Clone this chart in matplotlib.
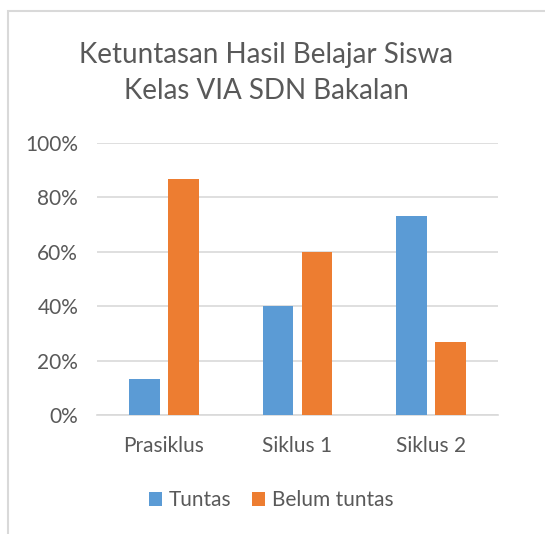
import matplotlib
matplotlib.use("Agg")
import matplotlib.pyplot as plt
from matplotlib.patches import Rectangle
from matplotlib.ticker import PercentFormatter

categories = ["Prasiklus", "Siklus 1", "Siklus 2"]
tuntas = [13.33, 40.0, 73.33]
belum_tuntas = [86.67, 60.0, 26.67]
series_names = ["Tuntas", "Belum tuntas"]
yticks = [0, 20, 40, 60, 80, 100]

W, H = 545, 534
fig = plt.figure(figsize=(W / 100, H / 100), dpi=100)
plt.rcParams['font.family'] = ['Lato', 'DejaVu Sans']
text_color = "#595959"

# outer chart border
fig.patches.append(Rectangle((8 / W, -0.1), 1.2, 1 - 11 / H + 0.1, transform=fig.transFigure,
                             fill=False, edgecolor="#D9D9D9", lw=1.5))

ax = fig.add_axes([97 / W, 1 - 415 / H, (498 - 97) / W, (415 - 143) / H])
x = list(range(len(categories)))
bw = 0.23
off = 0.145
ax.bar([i - off for i in x], tuntas, bw, color="#5B9BD5", label=series_names[0], zorder=3)
ax.bar([i + off for i in x], belum_tuntas, bw, color="#ED7D31", label=series_names[1], zorder=3)

ax.set_xlim(-0.5, 2.5)
ax.set_ylim(0, 100)
ax.set_yticks(yticks)
ax.yaxis.set_major_formatter(PercentFormatter(decimals=0))
ax.set_xticks(x)
ax.set_xticklabels(categories)
ax.grid(axis="y", color="#D9D9D9", lw=1.2, zorder=0)
for s in ["top", "right", "left"]:
    ax.spines[s].set_visible(False)
ax.spines["bottom"].set_color("#D9D9D9")
ax.spines["bottom"].set_linewidth(1.2)
ax.tick_params(axis="both", length=0, colors=text_color, labelsize=15)
ax.tick_params(axis="y", pad=13.5)
ax.tick_params(axis="x", pad=15)

fig.text(266 / W, 1 - 73 / H, "Ketuntasan Hasil Belajar Siswa\nKelas VIA SDN Bakalan",
         ha="center", va="center", fontsize=20, color=text_color, linespacing=1.5)

leg = fig.legend(loc="center", bbox_to_anchor=(271 / W, 1 - 500 / H), ncol=2, frameon=False,
                 fontsize=15, handlelength=0.65, handleheight=0.65, handletextpad=0.3,
                 columnspacing=1.0, labelcolor=text_color)

fig.savefig("out.png", dpi=100)
